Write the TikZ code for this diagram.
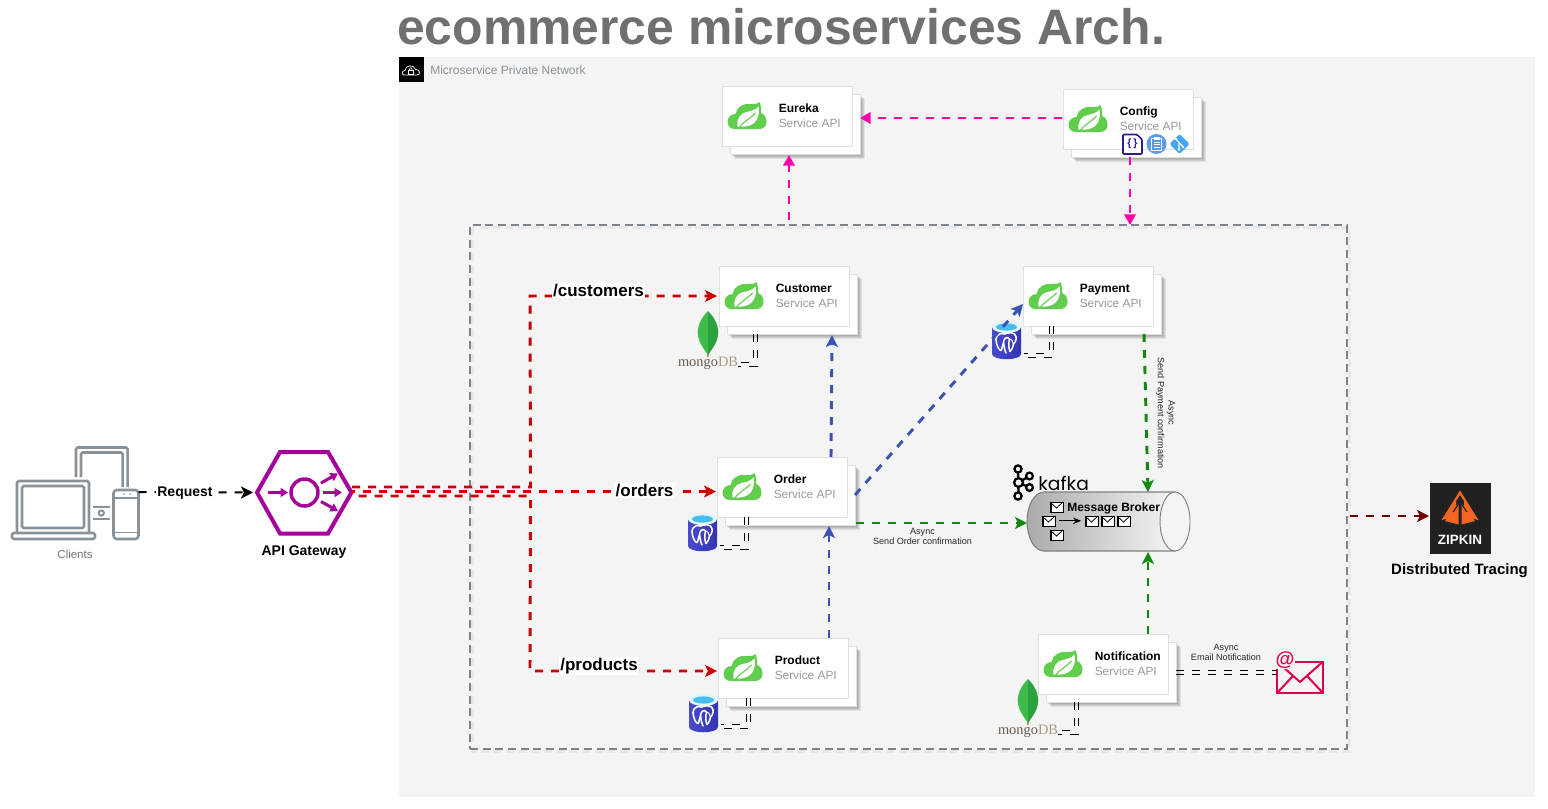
\documentclass[tikz,border=0pt]{standalone}
\usepackage{fontspec}
\setmainfont{Liberation Sans}
\newfontfamily\serifx{Liberation Serif}
\newfontfamily\kafkafont{Poppins}
\usetikzlibrary{arrows.meta,calc,shapes.geometric}
\definecolor{bgGray}{HTML}{F4F4F4}
\definecolor{cPink}{HTML}{FF00AA}
\definecolor{cRed}{HTML}{CC0000}
\definecolor{cBlue}{HTML}{3A53B5}
\definecolor{cGreen}{HTML}{0F8A0F}
\definecolor{cMaroon}{HTML}{6F0000}
\definecolor{cPurple}{HTML}{A6009A}
\definecolor{cIcon}{HTML}{8A9299}
\definecolor{cSpring}{HTML}{60CE4C}
\definecolor{cMail}{HTML}{E0004D}
\definecolor{cOrange}{HTML}{F26522}
\definecolor{cLeafA}{HTML}{3FBB4B}
\definecolor{cLeafB}{HTML}{2AA33F}
\definecolor{cMongoA}{HTML}{6B5B4D}
\definecolor{cMongoB}{HTML}{A89A80}
\definecolor{cDoc}{HTML}{311B92}
\definecolor{cClip}{HTML}{5C9CE6}
\definecolor{cGit}{HTML}{42A5F5}
\definecolor{cPgA}{HTML}{4A4AD0}
\definecolor{cPgB}{HTML}{3535B0}
\definecolor{cPgTop}{HTML}{45BDEE}
\newcommand\fsz[1]{\fontsize{#1}{#1}\selectfont}
\tikzset{
  conn/.style={line width=2.2pt,dash pattern=on 6pt off 6pt},
  tipS/.style={-{Stealth[length=9pt,width=9pt,inset=2.2pt]}},
  tipT/.style={-{Triangle[length=8pt,width=8.5pt]}},
  link/.style={black,line width=.65pt,dash pattern=on 6pt off 6pt},
  cardface/.style={draw=black!12,fill=white,line width=.7pt,minimum width=97.5pt,minimum height=45pt,inner sep=0pt,outer sep=0pt},
  cardtitle/.style={anchor=base west,inner sep=0pt,font=\fsz{9pt}\bfseries,text=black},
  cardsub/.style={anchor=base west,inner sep=0pt,font=\fsz{8.9pt},text=black!40},
  small/.style={inner sep=0pt,font=\fsz{6.8pt},align=center,text=black!85},
  hollow/.style={inner sep=0pt,outer sep=0pt},
  routelabel/.style={fill=white,inner sep=1pt,font=\fsz{12.75pt}\bfseries,text=black},
  icon/.style={draw=cIcon,line width=1.9pt,rounded corners=1.2pt},
  mailbox/.style={draw=black,fill=white,line width=.7pt},
}
% an L-shaped double link: down from #1, then sideways to #2
\newcommand\linkL[2]{%
  \draw[link] ($#1+(2,0)$) |- ($#2+(0,2)$);
  \draw[link] ($#1+(-2,0)$) |- ($#2+(0,-2)$);}
\newcommand\springicon{%
  \begin{scope}[xshift=.4pt]
  \fill[cSpring] (12,43) .. controls (7,43) and (5,39) .. (5,36)
     .. controls (5,31) and (9,28) .. (13,28)
     .. controls (14,21) and (21,17) .. (28,18)
     .. controls (31,18.5) and (35,18) .. (37,16)
     .. controls (38.5,20) and (39,24) .. (38.5,27)
     .. controls (42,28) and (44,32) .. (44,36)
     .. controls (44,40) and (41,43) .. (37,43) -- cycle;
  \fill[white] (15,40.5) .. controls (13.5,33) and (18,27) .. (24,26)
     .. controls (29,25) and (33,24) .. (36,20.5)
     .. controls (37.5,28) and (35,37) .. (27,39.5)
     .. controls (23,40.8) and (19,41) .. (15,40.5) -- cycle;
  \draw[cSpring,line width=.8pt] (17,41) .. controls (21,36) and (27,33) .. (33,27);
  \end{scope}}
% name, x, y (top-left of the front card), title
\newcommand\service[4]{%
  \begin{scope}[shift={(#2,#3)}]
    \foreach \d in {1,2,3,4,5} {\fill[black,opacity=.08] (8+\d,8+\d) rectangle (138+\d,68+\d);}
    \node[cardface] (#1-back) at (73,38) {};
    \node[cardface] (#1) at (65,30) {};
    \springicon
    \node[cardtitle] (#1-title) at (56.5,26) {#4};
    \node[cardsub] (#1-sub) at (56.5,41) {Service API};
  \end{scope}}
% name, centre x, centre y
\newcommand\pgdb[3]{%
  \begin{scope}[shift={(#2,#3)}]
    \node[hollow,minimum width=21.75pt,minimum height=28.5pt] (#1) at (0,0) {};
    \path[left color=cPgA,right color=cPgB] (-14.5,-13) -- (-14.5,14) .. controls (-14,21) and (14,21) .. (14.5,14) -- (14.5,-13) -- cycle;
    \fill[white!88!cyan] (0,-13) ellipse[x radius=14.5,y radius=6];
    \fill[cPgTop] (0,-13) ellipse[x radius=10.5,y radius=3.6];
    \draw[white,line width=1.15pt,line join=round,line cap=round]
      (-2,-6) .. controls (-9,-8) and (-12,-2) .. (-10,3) .. controls (-9,7) and (-7.5,10) .. (-5.5,10.5)
        .. controls (-4,9) and (-4.5,5) .. (-3,2.5) .. controls (-2.5,6) and (-2,10) .. (-.5,13);
    \draw[white,line width=1.15pt,line join=round,line cap=round]
      (-2,-6) .. controls (1,-7) and (5,-8) .. (8,-6) .. controls (11,-3) and (9.5,2) .. (7,4)
        .. controls (6,7) and (6,10) .. (3.5,11.5) .. controls (2,8) and (2,3) .. (3,-1)
        .. controls (1,-4) and (-3,-2) .. (-3,2.5);
    \draw[white,line width=.8pt] (3,-1) .. controls (5,-1.5) and (6,1) .. (7,4);
  \end{scope}}
% name, leaf x, leaf top y
\newcommand\mongo[3]{%
  \begin{scope}[shift={(#2,#3)}]
    \fill[cMongoB] (-.6,40) rectangle (.6,46);
    \fill[cLeafA] (0,0) .. controls (-7,7) and (-11,15) .. (-10,24) .. controls (-9,33) and (-3,39) .. (0,44) -- cycle;
    \fill[cLeafB] (0,0) .. controls (7,7) and (11,15) .. (10,24) .. controls (9,33) and (3,39) .. (0,44) -- cycle;
    \node[hollow,font=\serifx\fsz{10.8pt},text=cMongoA] (#1) at (0,52) {mongo\textcolor{cMongoB}{DB}};
  \end{scope}}
\newcommand\mailglyph[2]{%
  \draw[mailbox] (#1,#2) rectangle ++(13,10);
  \draw[black,line width=.6pt] (#1,#2) -- ++(6.5,6) -- ++(6.5,-6);
  \draw[black,line width=.5pt] (#1+1.5,#2) -- ++(0,10);}
\begin{document}
\begin{tikzpicture}[x=0.75pt,y=-0.75pt]
\useasboundingbox (0,0) rectangle (1548,808);
\fill[white] (0,0) rectangle (1548,808);
% title + private network
\node[anchor=base west,inner sep=0pt,font=\fsz{37.4pt}\bfseries,text=black!56] (title) at (397,44) {ecommerce microservices Arch.};
\node[fill=bgGray,minimum width=852pt,minimum height=555pt,inner sep=0pt,outer sep=0pt,anchor=north west] (vpc) at (399,57) {};
\node[fill=black,minimum width=18.75pt,minimum height=18.75pt,inner sep=0pt,anchor=north west] (vpcicon) at (399,57) {};
\draw[white,line width=.55pt] (404,75) .. controls (401.5,75) and (401.5,70.5) .. (405,70.5) .. controls (405,65) and (414,64) .. (415.5,69.5) .. controls (420,69) and (421,75) .. (417,75) -- cycle;
\draw[white,line width=.55pt] (408.5,70.5) rectangle (413,74);
\draw[white,line width=.55pt] (409.3,70.5) .. controls (409.3,67) and (412.2,67) .. (412.2,70.5);
\node[anchor=west,inner sep=0pt,font=\fsz{9pt},text=cIcon] (vpclabel) at (430,70.5) {Microservice Private Network};
% dashed boundary
\draw[black,opacity=.05,line width=2.8pt,dash pattern=on 6pt off 3.5pt] (472.5,227.5) rectangle (1349.5,751.5);
\node[draw=cIcon!90!black,line width=1.5pt,dash pattern=on 6pt off 3.5pt,minimum width=657.75pt,minimum height=393pt,inner sep=0pt,outer sep=0pt] (net) at (908.5,487) {};
% services
\service{eureka}{722}{86}{Eureka}
\service{config}{1063}{89}{Config}
\service{customer}{719}{266}{Customer}
\service{payment}{1023}{266}{Payment}
\service{order}{717}{457}{Order}
\service{product}{718}{638}{Product}
\service{notification}{1038}{634}{Notification}
% config badges
\draw[fill=white,draw=cDoc,line width=1.3pt,rounded corners=.8pt] (1123,134.5) -- (1137,134.5) -- (1142,139.5) -- (1142,154) -- (1123,154) -- cycle;
\node[hollow,minimum width=14.5pt,minimum height=15pt,font=\fsz{8pt}\bfseries,text=cDoc] (cfgdoc) at (1132.5,144) {\{\,\}};
\fill[cClip] (1156.5,144) circle[radius=10];
\draw[white,line width=.8pt] (1151.5,138.5) rectangle (1161.5,150.5);
\fill[white] (1153.5,137) rectangle (1159.5,139.5);
\draw[white,line width=.6pt] (1153.5,142) -- (1159.5,142) (1153.5,144.5) -- (1159.5,144.5) (1153.5,147) -- (1159.5,147);
\fill[cGit,rounded corners=1.5pt] (1179.5,134) -- (1189.5,144) -- (1179.5,154) -- (1169.5,144) -- cycle;
\draw[white,line width=.9pt] (1176,139) -- (1183,147) (1179,143) -- (1179,149);
\fill[white] (1176,139) circle[radius=1.3] (1183,147) circle[radius=1.3] (1179,149.5) circle[radius=1.3];
% databases
\mongo{mongoCustomer}{708}{311}
\mongo{mongoNotification}{1028}{679}
\pgdb{pgOrder}{702.5}{532}
\pgdb{pgProduct}{703.5}{713}
\pgdb{pgPayment}{1006.5}{340}
% clients
\node[hollow,minimum width=95.25pt,minimum height=70pt] (clients) at (75,493) {};
\draw[icon] (17,533) -- (17,481) -- (89,481) -- (89,533);
\draw[icon] (22,486) rectangle (84,528);
\draw[icon] (12,533) rectangle (95,539);
\draw[icon] (76,477) -- (76,447.5) -- (127.7,447.5) -- (127.7,487);
\draw[icon] (81,477) -- (81,452.5) -- (122.7,452.5) -- (122.7,487);
\draw[icon,rounded corners=2.5pt] (113.5,490) rectangle (138.5,539);
\draw[cIcon,line width=1.4pt] (114,498) -- (138,498) (114,532.5) -- (138,532.5);
\fill[cIcon] (124,494) circle[radius=.9] (130,494) circle[radius=.9];
\draw[cIcon,line width=1.6pt] (93,507) -- (110,507) (93,519) -- (110,519);
\draw[cIcon,line width=1.5pt] (101.3,513) circle[radius=2.6];
\node[inner sep=0pt,font=\fsz{8.6pt},text=black!55] (clientslabel) at (75,554) {Clients};
% gateway
\node[hollow,minimum width=71.25pt,minimum height=61.5pt] (gw) at (304.5,492.5) {};
\draw[cPurple,line width=3pt,line join=miter] (257,492.5) -- (280,452) -- (328,452) -- (351.5,492.5) -- (328,533.5) -- (280,533.5) -- cycle;
\draw[cPurple,line width=2.6pt] (304.5,492.5) circle[radius=13.5];
\begin{scope}[cPurple,line width=2.3pt,-{Triangle[length=5.5pt,width=6.5pt]}]
\draw (268,492.5) -- (288,492.5);
\draw (323,492.5) -- (342,492.5);
\draw (321,483) -- (338,473.5);
\draw (321,501.5) -- (338,511);
\end{scope}
\node[inner sep=0pt,font=\fsz{10.5pt}\bfseries] (gwlabel) at (304,552.5) {API Gateway};
% kafka
\node[hollow,minimum width=122.25pt,minimum height=44.25pt] (kafka) at (1108.5,521.5) {};
\path[left color=black!33,right color=black!4,draw=black!50,line width=.8pt] (1175,492) -- (1044,492) .. controls (1034,492) and (1027,506) .. (1027,521.5) .. controls (1027,537) and (1034,551) .. (1044,551) -- (1175,551) -- cycle;
\draw[fill=bgGray,draw=black!50,line width=.7pt] (1175,521.5) ellipse[x radius=15,y radius=29.5];
\mailglyph{1050}{502}
\mailglyph{1042}{516}
\mailglyph{1085}{516}
\mailglyph{1101}{516}
\mailglyph{1117}{516}
\mailglyph{1050}{530}
\draw[black,line width=.7pt,-{Stealth[length=6pt,width=5pt]}] (1059,520.8) -- (1081,520.8);
\node[anchor=west,inner sep=0pt,font=\fsz{9pt}\bfseries] (brokerlabel) at (1067,508) {Message Broker};
\begin{scope}[black,line width=1.7pt]
\draw (1018,469) -- (1018.5,496) (1018.5,482.5) -- (1029.5,476) (1018.5,482.5) -- (1029.5,487.5);
\filldraw[fill=bgGray] (1018,469) circle[radius=3.6] (1029.5,476) circle[radius=3.4] (1029.5,487.5) circle[radius=3.4] (1018,496) circle[radius=3.6] (1018.5,482.5) circle[radius=4.4];
\end{scope}
\node[anchor=west,inner sep=0pt,font=\kafkafont\fsz{14pt}] (kafkalabel) at (1038,483) {kafka};
% email
\node[hollow,minimum width=34.5pt,minimum height=24pt] (email) at (1300,677) {};
\draw[cMail,line width=1.5pt,line join=miter] (1277,661.5) rectangle (1323,693);
\draw[cMail,line width=1.5pt] (1277,661.5) -- (1300,682) -- (1323,661.5) (1277,693) -- (1293,676) (1323,693) -- (1307,676);
\node[fill=bgGray,inner sep=.2pt,font=\fsz{14.5pt}\bfseries,text=cMail] (emailat) at (1285,660) {@};
% zipkin
\node[fill=black!87,minimum width=45.75pt,minimum height=53.25pt,inner sep=0pt,outer sep=0pt] (zipkin) at (1460.5,518) {};
\fill[cOrange] (1460,490.5) -- (1478.5,520) -- (1464,516.5) -- (1464,501) -- (1460,495) -- (1456,501) -- (1456,516.5) -- (1441.5,520) -- cycle;
\fill[cOrange] (1458.5,503) -- (1458.5,524.5) -- (1445,521) -- cycle (1461.5,503) -- (1461.5,524.5) -- (1475,521) -- cycle;
\draw[black!87,line width=.9pt] (1460,496) -- (1460,526) (1453,512) -- (1460,502) -- (1467,512);
\node[inner sep=0pt,font=\fsz{10.1pt}\bfseries,text=white] (zipkinlabel) at (1460,540) {ZIPKIN};
\node[inner sep=0pt,font=\fsz{11.25pt}\bfseries] (tracing) at (1459.5,570.5) {Distributed Tracing};
% bends
\coordinate (bendCustomer) at (530,296);
\coordinate (bendProduct) at (530,671);
% connectors
\draw[conn,cPink,tipT] ($(config.west)+(-1,-1)$) -- ($(eureka-back.east)+(0,-6)$);
\draw[conn,cPink,tipT] ($(net.north)+(-119.5,-5)$) -- ($(eureka-back.south)+(-6,1)$);
\draw[conn,cPink,tipT] ($(cfgdoc.south)+(-2.5,3)$) -- ($(net.north)+(221.5,0)$);
\draw[conn,black,line width=1.5pt,tipS] (clients.east) ++ (0,-1) -- ($(gw.west)+(-4,0)$);
\draw[conn,cRed,tipS,dash phase=0pt] ($(gw.east)+(0,-5.5)$) -- ++(178.5,0) -- (bendCustomer) -- ($(customer.west)+(-2,0)$);
\draw[conn,cRed,tipS,dash phase=7pt] ($(gw.east)+(0,3.5)$) -- ++(178.5,0) -- (bendProduct) -- ($(product.west)+(-1,3)$);
\draw[conn,cRed,tipS,dash phase=3.5pt] ($(gw.east)+(0,-1)$) -- ($(order.west)+(-1,4.5)$);
\draw[conn,cBlue,tipS] ($(order.north)+(49,0)$) -- ($(customer-back.south)+(40,1)$);
\draw[conn,cBlue,tipS] (order-back.east) -- ($(payment.west)+(0,8)$);
\draw[conn,cBlue,tipS] ($(product.north)+(46,0)$) -- ($(order-back.south)+(39,1)$);
\draw[conn,cGreen,tipS] ($(order-back.east)+(1,28)$) -- ($(kafka.west)+(0,1.5)$);
\draw[conn,cGreen,tipS] ($(payment-back.south)+(48,0)$) -- ($(kafka.north)+(39.5,0)$);
\draw[conn,cGreen,tipS] ($(notification.north)+(45,0)$) -- ($(kafka.south)+(39.5,1)$);
\draw[conn,cMaroon,tipS] ($(zipkin.west -| net.east)+(3,-2)$) -- ($(zipkin.west)+(-1,-2)$);
\linkL{(customer-back.south)+(-37,0)}{(mongoCustomer.east)+(0,1)}
\linkL{(notification-back.south)+(-35,0)}{(mongoNotification.east)+(0,1)}
\linkL{(order.south)+(-36,0)}{(pgOrder.east)+(3,15)}
\linkL{(payment.south)+(-37,0)}{(pgPayment.east)+(3,15)}
\linkL{(product.south)+(-35,0)}{(pgProduct.east)+(3,13)}
\draw[link] ($(notification-back.east)+(0,-2)$) -- ($(notification-back.east -| email.west)+(0,-2)$);
\draw[link] ($(notification-back.east)+(0,2)$) -- ($(notification-back.east -| email.west)+(0,2)$);
% connector labels
\node[fill=white,inner sep=1pt,font=\fsz{10.5pt}\bfseries] (lblrequest) at (185,493.5) {Request};
\node[routelabel] (lblcustomers) at (598.5,290.5) {/customers};
\node[routelabel] (lblorders) at (644.5,490.5) {/orders};
\node[routelabel] (lblproducts) at (599,666) {/products};
\node[small] (lblorder) at (922.5,536.5) {Async\\[1.3pt]Send Order confirmation};
\node[small] (lblemail) at (1226,652.5) {Async\\[1.3pt]Email Notification};
\node[small,rotate=-90] (lblpayment) at (1165.5,413) {Async\\[1.3pt]Send Payment confirmation};
\end{tikzpicture}
\end{document}
